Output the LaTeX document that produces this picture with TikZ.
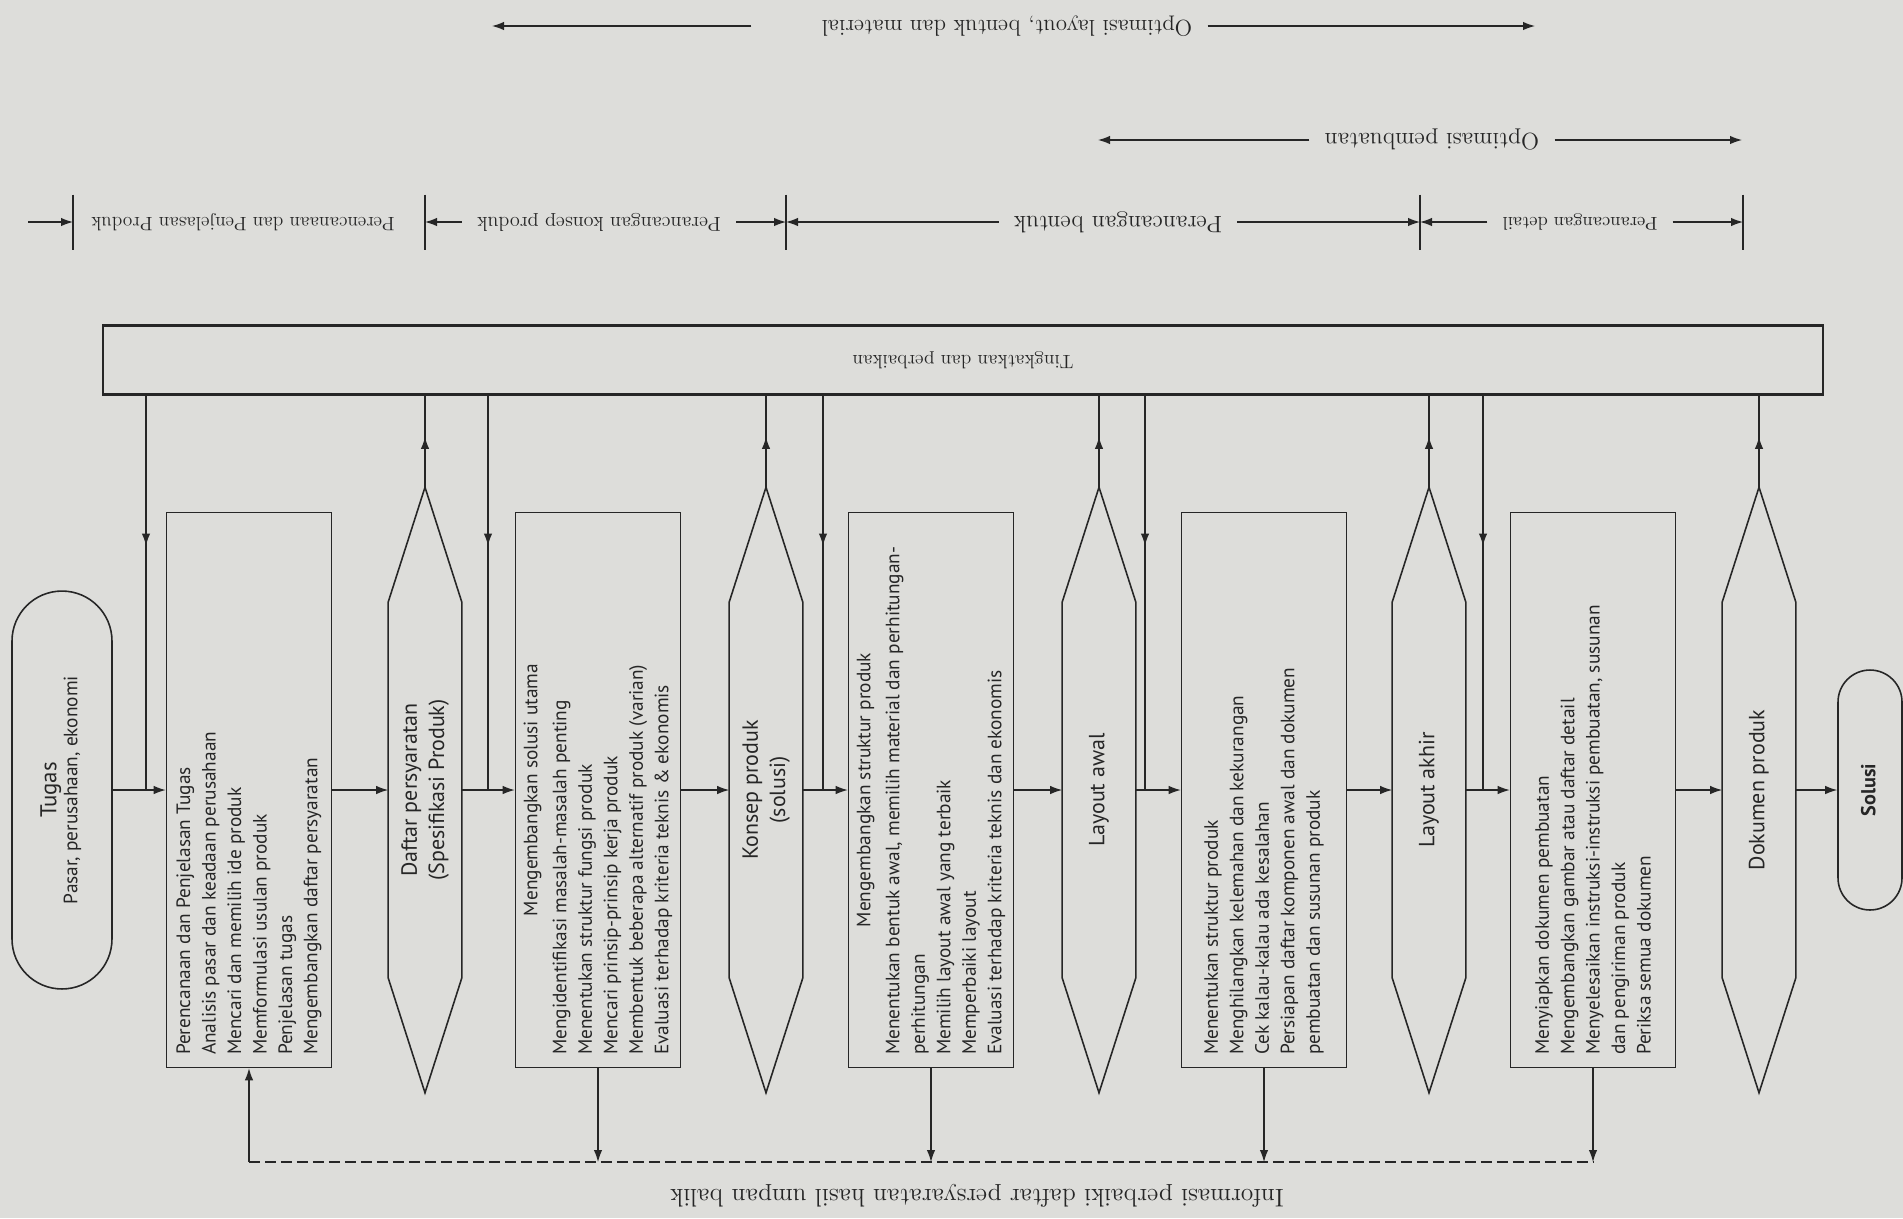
\documentclass[tikz,border=0pt]{standalone}
\usepackage{fontspec}
\usepackage{graphicx}
\newfontfamily\boxfont{PT Sans}
\usetikzlibrary{arrows.meta,positioning,decorations.markings}
\definecolor{paper}{RGB}{221,221,218}
\definecolor{ink}{RGB}{38,38,38}

\newcommand{\boxtext}[1]{\rotatebox{90}{\parbox{10.6cm}{\boxfont\fontsize{11}{14.5}\selectfont\raggedright #1}}}
\newcommand{\uptext}[2]{\rotatebox{90}{\boxfont\fontsize{#1}{15.5}\selectfont\begin{tabular}{@{}c@{}}#2\end{tabular}}}
\newcommand{\flipped}[2]{\rotatebox{180}{\fontsize{#1}{#1}\selectfont #2}}

\tikzset{
  stepbox/.style={draw, line width=0.9pt, minimum width=3.3cm, minimum height=11.1cm, inner sep=0pt},
  hexbox/.style={minimum width=1.46cm, minimum height=12.1cm, inner sep=0pt},
  hexline/.style={line width=0.9pt, line join=miter},
  endbox/.style={draw, line width=0.9pt, rounded corners=#1, inner sep=0pt},
  barbox/.style={draw, line width=1.4pt, minimum width=34.4cm, minimum height=1.38cm, inner sep=0pt},
  flow/.style={line width=0.7pt, -{Latex[length=2.4mm,width=1.7mm]}},
  midarrow/.style={line width=0.7pt, postaction={decorate},
    decoration={markings, mark=at position #1 with {\arrow{Latex[length=2.4mm,width=1.7mm]}}}},
  fbline/.style={line width=1.3pt, dash pattern=on 2.2mm off 1mm},
  tickline/.style={line width=0.7pt},
  phase/.style={inner sep=0.3cm},
}

\begin{document}
\begin{tikzpicture}[x=0.02cm, y=-0.02cm, color=ink]
  \fill[paper] (0,0) rectangle (1903,1218);
  \useasboundingbox (0,0) rectangle (1903,1218);

  % phase labels on top
  \node[phase] (opt1) at (1007,26) {\flipped{13}{Optimasi layout, bentuk dan material}};
  \coordinate (opt1L) at (492,26);
  \coordinate (opt1R) at (1535,26);
  \draw[flow] ([xshift=-1.1cm]opt1.west) -- (opt1L);
  \draw[flow] (opt1.east) -- (opt1R);

  \node[phase] (opt2) at (1432,140) {\flipped{13.5}{Optimasi pembuatan}};
  \coordinate (opt2L) at (1098,140);
  \coordinate (opt2R) at (1742,140);
  \draw[flow] (opt2.west) -- (opt2L);
  \draw[flow] (opt2.east) -- (opt2R);

  \node[phase] (ph1) at (243,222) {\flipped{11}{Perencanaan dan Penjelasan Produk}};
  \node[phase] (ph2) at (599,222) {\flipped{11.5}{Perancangan konsep produk}};
  \node[phase] (ph3) at (1118,222) {\flipped{13.5}{Perancangan bentuk}};
  \node[phase] (ph4) at (1580,222) {\flipped{10.5}{Perancangan detail}};
  \foreach \t/\x in {t0/73,t1/425,t2/786,t3/1420,t4/1743}
    \coordinate (\t) at (\x,222);
  \foreach \t in {t0,t1,t2,t3,t4}
    \draw[tickline] ([yshift=5.5mm]\t) -- ([yshift=-5.5mm]\t);
  \coordinate (ph0) at (28,222);
  \draw[flow] (ph0) -- (t0);
  \draw[flow] (ph2.west) -- (t1);
  \draw[flow] (ph2.east) -- (t2);
  \draw[flow] (ph3.west) -- (t2);
  \draw[flow] (ph3.east) -- (t3);
  \draw[flow] (ph4.west) -- (t3);
  \draw[flow] (ph4.east) -- (t4);

  \node[barbox] (bar) at (963,360) {\flipped{11}{Tingkatkan dan perbaikan}};

  % main chain
  \node[endbox=1cm, minimum width=2cm, minimum height=7.96cm] (tugas) at (62,790)
    {\rotatebox{90}{\boxfont\begin{tabular}{@{}c@{}}\fontsize{13}{17}\selectfont Tugas\\
      \fontsize{11}{14}\selectfont Pasar, perusahaan, ekonomi\end{tabular}}};

  \node[stepbox] (box1) at (249,790) {\boxtext{Perencanaan dan Penjelasan Tugas\\
    Analisis pasar dan keadaan perusahaan\\
    Mencari dan memilih ide produk\\
    Memformulasi usulan produk\\
    Penjelasan tugas\\
    Mengembangkan daftar persyaratan}};
  \node[hexbox] (hex1) at (425,790) {\uptext{12.5}{Daftar persyaratan\\(Spesifikasi Produk)}};

  \node[stepbox] (box2) at (598,790) {\boxtext{{\centering Mengembangkan solusi utama\par}\vspace{2pt}
    Mengidentifikasi masalah-masalah penting\\
    Menentukan struktur fungsi produk\\
    Mencari prinsip-prinsip kerja produk\\
    Membentuk beberapa alternatif produk (varian)\\
    Evaluasi terhadap kriteria teknis \& ekonomis}};
  \node[hexbox] (hex2) at (766,790) {\uptext{12.5}{Konsep produk\\(solusi)}};

  \node[stepbox] (box3) at (931,790) {\boxtext{{\centering Mengembangkan struktur produk\par}\vspace{2pt}
    Menentukan bentuk awal, memilih material dan perhitungan-\\
    perhitungan\\
    Memilih layout awal yang terbaik\\
    Memperbaiki layout\\
    Evaluasi terhadap kriteria teknis dan ekonomis}};
  \node[hexbox] (hex3) at (1099,790) {\uptext{12.5}{Layout awal}};

  \node[stepbox] (box4) at (1264,790) {\boxtext{Menentukan struktur produk\\
    Menghilangkan kelemahan dan kekurangan\\
    Cek kalau-kalau ada kesalahan\\
    Persiapan daftar komponen awal dan dokumen\\
    pembuatan dan susunan produk}};
  \node[hexbox] (hex4) at (1429,790) {\uptext{12.5}{Layout akhir}};

  \node[stepbox] (box5) at (1593,790) {\boxtext{Menyiapkan dokumen pembuatan\\
    Mengembangkan gambar atau daftar detail\\
    Menyelesaikan instruksi-instruksi pembuatan, susunan\\
    dan pengiriman produk\\
    Periksa semua dokumen}};
  \node[hexbox] (hex5) at (1759,790) {\uptext{12.5}{Dokumen produk}};

  \node[endbox=0.64cm, minimum width=1.28cm, minimum height=4.8cm] (solusi) at (1870,790)
    {\uptext{11.5}{\bfseries Solusi}};

  % hexagon outlines
  \foreach \h in {hex1,hex2,hex3,hex4,hex5}
    \draw[hexline] (\h.north) -- ([yshift=-2.3cm]\h.north east) -- ([yshift=2.3cm]\h.south east)
      -- (\h.south) -- ([yshift=2.3cm]\h.south west) -- ([yshift=-2.3cm]\h.north west) -- cycle;

  \draw[flow] (tugas) -- (box1);
  \draw[flow] (box1) -- (hex1);
  \draw[flow] (hex1) -- (box2);
  \draw[flow] (box2) -- (hex2);
  \draw[flow] (hex2) -- (box3);
  \draw[flow] (box3) -- (hex3);
  \draw[flow] (hex3) -- (box4);
  \draw[flow] (box4) -- (hex4);
  \draw[flow] (hex4) -- (box5);
  \draw[flow] (box5) -- (hex5);
  \draw[flow] (hex5) -- (solusi);

  % links to and from the bar
  \foreach \h in {hex1,hex2,hex3,hex4,hex5}
    \draw[midarrow=0.55] (\h.north) -- (\h.north |- bar.south);
  \foreach \x [count=\i from 0] in {146,488,823,1145,1483}
    \coordinate (j\i) at (\x,790);
  \foreach \i in {0,...,4}
    \draw[midarrow=0.38] (j\i |- bar.south) -- (j\i);

  % feedback
  \coordinate (fb) at (0,1162);
  \foreach \b in {box2,box3,box4,box5}
    \draw[flow] (\b.south) -- (\b.south |- fb);
  \draw[fbline] (box1.south |- fb) -- (box5.south |- fb);
  \draw[flow] (box1.south |- fb) -- (box1.south);
  \node (fbtext) at (977,1196) {\flipped{14.5}{Informasi perbaiki daftar persyaratan hasil umpan balik}};
\end{tikzpicture}
\end{document}
